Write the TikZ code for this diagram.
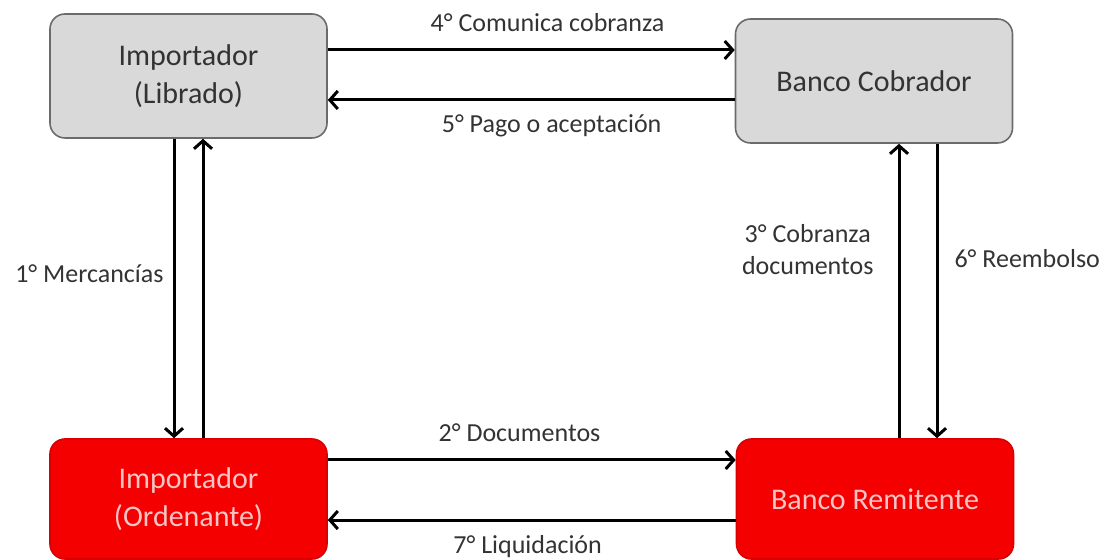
\documentclass[tikz,border=0pt]{standalone}
\usepackage{fontspec}
\setmainfont{Carlito}
\usetikzlibrary{arrows.meta}
\definecolor{cajagris}{HTML}{D9D9D9}
\definecolor{bordegris}{HTML}{6B6B6B}
\definecolor{textogris}{HTML}{333333}
\definecolor{cajaroja}{HTML}{F50000}
\definecolor{borderojo}{HTML}{D80000}
\definecolor{textorosa}{HTML}{F8C4C4}
\begin{document}
\begin{tikzpicture}[x=0.5pt,y=-0.5pt,
  caja/.style={rounded corners=7.5pt,minimum width=138.5pt,minimum height=62pt,
    align=center,font=\fontsize{15}{19}\selectfont,line width=0.8pt},
  gris/.style={caja,draw=bordegris,fill=cajagris,text=textogris},
  rojo/.style={caja,draw=borderojo,fill=cajaroja,text=textorosa,minimum height=60pt},
  flecha/.style={-{Straight Barb[length=4pt,width=9pt]},line width=1.5pt},
  etiq/.style={font=\fontsize{13}{16}\selectfont,text=textogris,inner sep=0pt}]
\useasboundingbox (0,0) rectangle (1107,560);

\node[gris] (libra) at (188.5,76) {Importador\\(Librado)};
\node[gris] (cobra) at (874,81) {Banco Cobrador};
\node[rojo] (orden) at (188.5,499) {Importador\\(Ordenante)};
\node[rojo] (remit) at (875,499) {Banco Remitente};

\draw[flecha] ([yshift=13pt]libra.east) -- ([yshift=13pt]libra.east -| cobra.west)
  node[etiq,pos=.54,anchor=base,yshift=9pt] (l4) {4° Comunica cobranza};
\draw[flecha] ([yshift=-9.5pt]cobra.west) -- ([yshift=-9.5pt]cobra.west -| libra.east)
  node[etiq,pos=.45,anchor=base,yshift=-16.5pt] (l5) {5° Pago o aceptación};

\draw[flecha] ([xshift=-7.25pt]libra.south) -- ([xshift=-7.25pt]libra.south |- orden.north)
  node[etiq,pos=.48,anchor=base east,xshift=-4.5pt] (l1) {1° Mercancías};
\draw[flecha] ([xshift=7.25pt]orden.north) -- ([xshift=7.25pt]orden.north |- libra.south);

\draw[flecha] ([xshift=12pt]remit.north) -- ([xshift=12pt]remit.north |- cobra.south)
  node[etiq,pos=.64,anchor=east,align=center,xshift=-12pt] (l3) {3° Cobranza\\documentos};
\draw[flecha] ([xshift=31.5pt]cobra.south) -- ([xshift=31.5pt]cobra.south |- remit.north)
  node[etiq,pos=.42,anchor=base west,xshift=8pt] (l6) {6° Reembolso};

\draw[flecha] ([yshift=19.5pt]orden.east) -- ([yshift=19.5pt]orden.east -| remit.west)
  node[etiq,pos=.47,anchor=base,yshift=9pt] (l2) {2° Documentos};
\draw[flecha] ([yshift=-10.5pt]remit.west) -- ([yshift=-10.5pt]remit.west -| orden.east)
  node[etiq,pos=.51,anchor=base,yshift=-16.5pt] (l7) {7° Liquidación};
\end{tikzpicture}
\end{document}
